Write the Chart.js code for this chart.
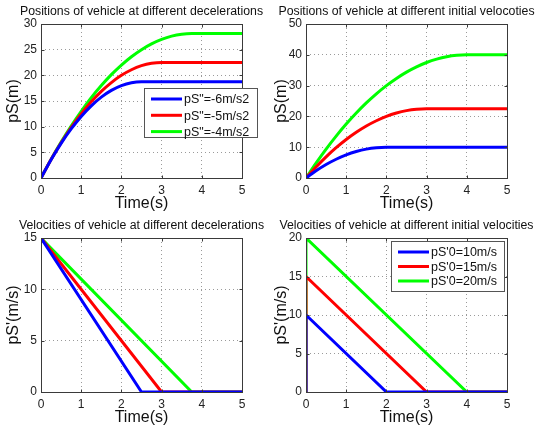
<!DOCTYPE html>
<html><head><meta charset="utf-8">
<script src="https://cdn.jsdelivr.net/npm/chart.js@4"></script>
<style>
html,body{margin:0;padding:0;background:#fff;}
#wrap{position:relative;width:536px;height:428px;overflow:hidden;background:#fff;}
canvas{position:absolute;}
</style></head><body>
<div id="wrap">
<canvas id="c1" width="268" height="214" style="left:0;top:0"></canvas>
<canvas id="c2" width="268" height="214" style="left:268px;top:0"></canvas>
<canvas id="c3" width="268" height="214" style="left:0;top:214px"></canvas>
<canvas id="c4" width="268" height="214" style="left:268px;top:214px"></canvas>
</div>
<script>
// ---------- data ----------
const timeGrid = [0,0.25,0.5,0.75,1,1.25,1.5,1.75,2,2.25,2.5,2.75,3,3.25,3.5,3.75,4,4.25,4.5,4.75,5];
const xTicks = [0,1,2,3,4,5];

// positions at different decelerations (v0 = 15 m/s)
const posDecel6 = [0,3.56,6.75,9.56,12,14.06,15.75,17.06,18,18.56,18.75,18.75,18.75,18.75,18.75,18.75,18.75,18.75,18.75,18.75,18.75];
const posDecel5 = [0,3.59,6.88,9.84,12.5,14.84,16.88,18.59,20,21.09,21.88,22.34,22.5,22.5,22.5,22.5,22.5,22.5,22.5,22.5,22.5];
const posDecel4 = [0,3.63,7,10.13,13,15.63,18,20.13,22,23.63,25,26.13,27,27.63,28,28.13,28.13,28.13,28.13,28.13,28.13];

// positions at different initial velocities
const posInit10 = [0,2.34,4.38,6.09,7.5,8.59,9.38,9.84,10,10,10,10,10,10,10,10,10,10,10,10,10];
const posInit15 = [0,3.59,6.88,9.84,12.5,14.84,16.88,18.59,20,21.09,21.88,22.34,22.5,22.5,22.5,22.5,22.5,22.5,22.5,22.5,22.5];
const posInit20 = [0,4.84,9.38,13.59,17.5,21.09,24.38,27.34,30,32.34,34.38,36.09,37.5,38.59,39.38,39.84,40,40,40,40,40];

// velocities at different decelerations (breakpoints)
const velDecel6T = [0,2.5,5],  velDecel6V = [15,0,0];
const velDecel5T = [0,3,5],    velDecel5V = [15,0,0];
const velDecel4T = [0,3.75,5], velDecel4V = [15,0,0];

// velocities at different initial velocities (breakpoints)
const velInit10T = [0,0,2,5], velInit10V = [0,10,0,0];
const velInit15T = [0,0,3,5], velInit15V = [0,15,0,0];
const velInit20T = [0,0,4,5], velInit20V = [0,20,0,0];

const decelLabels = ['pS"=-6m/s2','pS"=-5m/s2','pS"=-4m/s2'];
const initLabels = ["pS'0=10m/s","pS'0=15m/s","pS'0=20m/s"];
const titles = [
  'Positions of vehicle at different decelerations',
  'Positions of vehicle at different initial velocoties',
  'Velocities of vehicle at different decelerations',
  'Velocities of vehicle at different initial velocities'
];
const colors = ['#0000ff','#ff0000','#00ff00'];

// ---------- helpers ----------
const FONT = '"Liberation Sans", Arial, Helvetica, sans-serif';
function pts(xs, ys){ return xs.map((x,i)=>({x:x, y:ys[i]})); }

const framePlugin = {
  id: 'frame',
  afterDraw(chart, args, o) {
    const ctx = chart.ctx, a = chart.chartArea;
    const xs = chart.scales.x, ys = chart.scales.y;
    ctx.save();
    ctx.strokeStyle = '#3a3a3a';
    ctx.lineWidth = 1;
    const L = Math.round(a.left)+0.5, R = Math.round(a.right)+0.5, T = Math.round(a.top)+0.5, B = Math.round(a.bottom)+0.5;
    ctx.beginPath();
    xs.ticks.forEach(t => {
      const p = Math.round(xs.getPixelForValue(t.value))+0.5;
      ctx.moveTo(p, B); ctx.lineTo(p, B-3);
      ctx.moveTo(p, T); ctx.lineTo(p, T+3);
    });
    ys.ticks.forEach(t => {
      const p = Math.round(ys.getPixelForValue(t.value))+0.5;
      ctx.moveTo(L, p); ctx.lineTo(L+3, p);
      ctx.moveTo(R, p); ctx.lineTo(R-3, p);
    });
    ctx.stroke();
    ctx.strokeRect(L, T, R-L, B-T);
    // title
    ctx.fillStyle = '#111';
    ctx.font = '12.3px ' + FONT;
    ctx.textAlign = 'center';
    ctx.textBaseline = 'middle';
    ctx.fillText(o.title, (a.left+a.right)/2, o.titleY);
    // legend
    if (o.legend) {
      const lg = o.legend;
      ctx.fillStyle = '#fff';
      ctx.fillRect(lg.x, lg.y, lg.w, lg.h);
      ctx.strokeStyle = '#555';
      ctx.lineWidth = 1;
      ctx.strokeRect(lg.x+0.5, lg.y+0.5, lg.w, lg.h);
      ctx.textAlign = 'left';
      ctx.font = '12.5px ' + FONT;
      chart.data.datasets.forEach((d, i) => {
        const yy = lg.y + lg.first + i*lg.step;
        ctx.strokeStyle = d.borderColor;
        ctx.lineWidth = 3;
        ctx.beginPath();
        ctx.moveTo(lg.x+7, yy); ctx.lineTo(lg.x+38, yy);
        ctx.stroke();
        ctx.fillStyle = '#111';
        ctx.fillText(d.label, lg.x+40, yy+1);
      });
    }
    ctx.restore();
  }
};

function makeChart(id, datasets, yMax, yStep, yTitle, yWidth, padRight, title, legend) {
  return new Chart(document.getElementById(id), {
    type: 'line',
    data: { datasets: datasets },
    options: {
      responsive: false,
      animation: false,
      events: [],
      layout: { padding: { left: 0, right: padRight, top: 24, bottom: 0 } },
      plugins: {
        legend: { display: false },
        tooltip: { enabled: false },
        frame: { title: title, titleY: 12, legend: legend }
      },
      elements: { point: { radius: 0 }, line: { borderWidth: 3 } },
      scales: {
        x: {
          type: 'linear', min: 0, max: 5,
          afterBuildTicks: s => { s.ticks = xTicks.map(v => ({value: v})); },
          afterFit: s => { s.height = 36; },
          ticks: { color: '#222', font: { size: 12, family: FONT }, padding: 5, maxRotation: 0 },
          grid: { color: '#9a9a9a', drawTicks: false, lineWidth: 1 },
          border: { display: false, dash: [1, 3] },
          title: { display: true, text: 'Time(s)', color: '#111', font: { size: 16, family: FONT }, padding: { top: 0, bottom: 1 } }
        },
        y: {
          type: 'linear', min: 0, max: yMax,
          ticks: { stepSize: yStep, color: '#222', font: { size: 12, family: FONT }, padding: 4 },
          afterFit: s => { s.width = yWidth; },
          grid: { color: '#9a9a9a', drawTicks: false, lineWidth: 1 },
          border: { display: false, dash: [1, 3] },
          title: { display: true, text: yTitle, color: '#111', font: { size: 16, family: FONT }, padding: { top: 4, bottom: 0 } }
        }
      }
    },
    plugins: [framePlugin]
  });
}

function ds(label, color, data, cubic) {
  return { label: label, borderColor: color, backgroundColor: color, data: data,
           borderWidth: 3, pointRadius: 0, fill: false,
           cubicInterpolationMode: cubic ? 'monotone' : 'default', tension: 0 };
}

makeChart('c1', [
  ds(decelLabels[0], colors[0], pts(timeGrid, posDecel6), true),
  ds(decelLabels[1], colors[1], pts(timeGrid, posDecel5), true),
  ds(decelLabels[2], colors[2], pts(timeGrid, posDecel4), true)
], 30, 5, 'pS(m)', 41, 26, titles[0], { x: 144, y: 88, w: 113, h: 49, first: 11, step: 16.3 });

makeChart('c2', [
  ds(initLabels[0], colors[0], pts(timeGrid, posInit10), true),
  ds(initLabels[1], colors[1], pts(timeGrid, posInit15), true),
  ds(initLabels[2], colors[2], pts(timeGrid, posInit20), true)
], 50, 10, 'pS(m)', 38, 29, titles[1], null);

makeChart('c3', [
  ds(decelLabels[0], colors[0], pts(velDecel6T, velDecel6V), false),
  ds(decelLabels[1], colors[1], pts(velDecel5T, velDecel5V), false),
  ds(decelLabels[2], colors[2], pts(velDecel4T, velDecel4V), false)
], 15, 5, "pS'(m/s)", 41, 26, titles[2], null);

makeChart('c4', [
  ds(initLabels[0], colors[0], pts(velInit10T, velInit10V), false),
  ds(initLabels[1], colors[1], pts(velInit15T, velInit15V), false),
  ds(initLabels[2], colors[2], pts(velInit20T, velInit20V), false)
], 20, 5, "pS'(m/s)", 38, 29, titles[3], { x: 123, y: 27, w: 113, h: 50, first: 11, step: 14.5 });
</script>
</body></html>
